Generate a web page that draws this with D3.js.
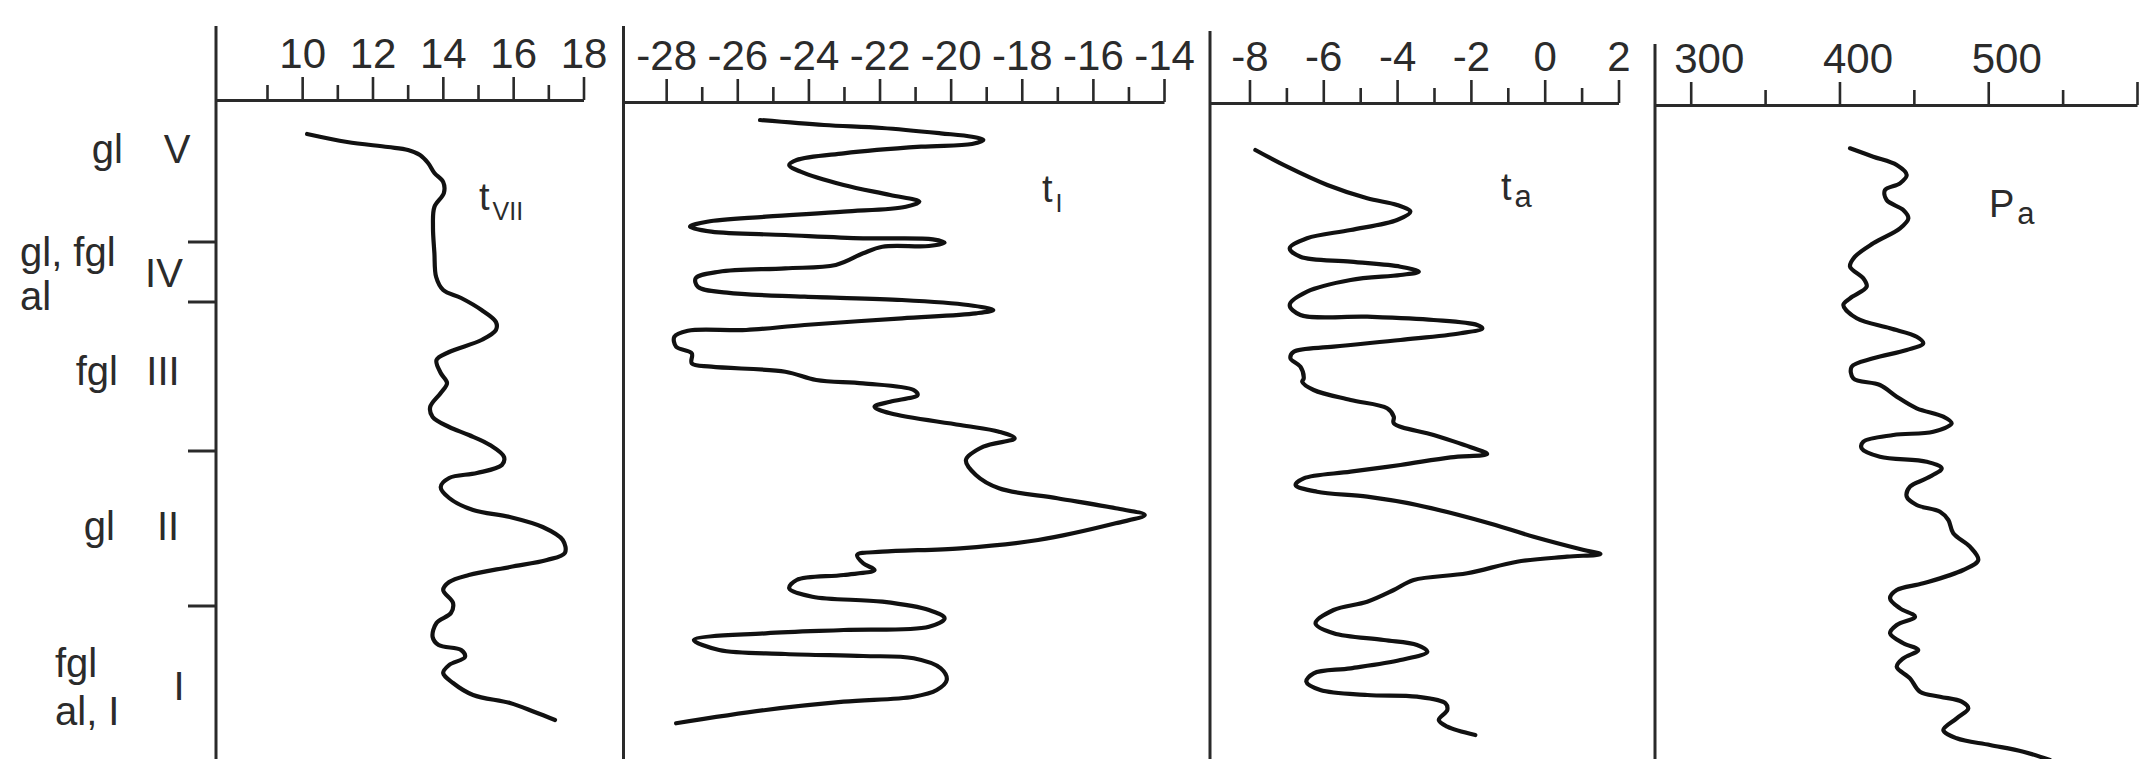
<!DOCTYPE html>
<html><head><meta charset="utf-8">
<script src="https://cdn.jsdelivr.net/npm/d3@7"></script>
<style>
html,body{margin:0;padding:0;background:#fff;}
svg{display:block;background:#fff;}
text{font-family:"Liberation Sans", Arial, Helvetica, sans-serif; fill:#2b2b2b;}
</style></head><body>
<svg id="chart" width="2153" height="759"></svg>
<script>
// ---------- DATA (depth in relative units, value on each panel's scale) ----------
// t_VII : July temperature
const tVII = [[3.4,10.14],[4.2,11.28],[4.7,12.44],[5.0,13.01],[5.5,13.35],[6.3,13.58],[7.3,13.76],[8.2,14.01],[9.3,14.03],[10.7,13.76],[12.7,13.72],[15.3,13.76],[17.7,13.81],[19.0,14.01],[19.8,14.52],[21.0,15.10],[22.2,15.51],[23.0,15.51],[24.0,15.10],[25.2,14.18],[26.0,13.82],[27.3,13.94],[28.3,14.12],[29.3,13.94],[30.7,13.64],[31.7,13.71],[32.7,14.18],[33.5,14.74],[34.5,15.34],[35.7,15.74],[36.5,15.68],[37.3,14.97],[37.8,14.18],[38.7,13.94],[39.8,14.18],[41.0,14.86],[41.7,15.91],[42.7,16.84],[44.0,17.41],[45.3,17.47],[46.0,16.96],[46.7,15.91],[47.5,14.74],[48.2,14.18],[49.0,14.01],[50.3,14.29],[51.3,14.23],[52.3,13.82],[53.7,13.71],[54.5,13.88],[55.0,14.52],[55.7,14.63],[56.5,14.18],[57.3,14.01],[58.3,14.29],[59.5,14.86],[60.3,15.91],[61.2,16.61],[62.0,17.19]];
// t_I : January temperature
const tI = [[2.0,-25.36],[2.5,-23.56],[2.8,-21.93],[3.33,-20.28],[3.67,-19.40],[4.0,-19.08],[4.4,-19.40],[4.67,-20.83],[5.33,-23.01],[6.0,-24.33],[6.5,-24.54],[7.17,-24.22],[8.5,-23.01],[9.5,-21.70],[10.17,-20.88],[10.67,-21.26],[11.17,-23.01],[11.67,-25.20],[12.17,-26.85],[12.67,-27.33],[13.17,-26.73],[13.5,-24.65],[13.83,-22.46],[13.93,-20.50],[14.27,-20.17],[14.6,-20.61],[14.67,-21.92],[15.33,-22.46],[16.5,-23.23],[16.83,-24.65],[17.17,-26.51],[17.83,-27.17],[18.67,-27.11],[19.27,-26.29],[19.67,-24.11],[20.0,-21.37],[20.5,-19.51],[21.0,-18.80],[21.33,-19.29],[21.83,-21.37],[22.5,-24.11],[23.0,-25.75],[23.07,-27.39],[23.67,-27.77],[24.67,-27.72],[25.33,-27.28],[26.33,-27.28],[26.67,-26.73],[27.17,-24.65],[28.0,-23.78],[28.33,-22.46],[29.0,-21.04],[29.5,-20.93],[30.17,-21.70],[30.67,-22.14],[31.33,-21.70],[32.5,-19.73],[33.17,-18.64],[33.83,-18.20],[34.67,-19.08],[36.0,-19.57],[37.5,-19.29],[38.83,-18.64],[39.83,-17.00],[40.83,-15.36],[41.5,-14.54],[42.33,-15.36],[44.0,-17.54],[44.83,-19.73],[45.17,-21.92],[45.5,-22.63],[46.33,-22.46],[47.0,-22.14],[47.5,-23.01],[48.0,-24.33],[48.83,-24.54],[49.67,-23.89],[50.17,-21.92],[51.0,-20.61],[51.83,-20.17],[52.67,-20.61],[53.0,-23.01],[53.33,-25.20],[54.0,-27.22],[55.0,-26.51],[55.4,-24.65],[55.6,-22.46],[55.83,-21.04],[56.83,-20.28],[58.0,-20.11],[59.0,-20.39],[59.67,-21.04],[60.17,-23.01],[61.0,-25.20],[62.33,-27.72]];
// t_a : mean annual temperature
const tA = [[5.0,-7.84],[6.67,-6.98],[8.5,-5.89],[9.83,-4.81],[10.5,-4.00],[11.17,-3.64],[12.0,-4.00],[13.0,-5.26],[13.83,-6.44],[14.83,-6.91],[15.67,-6.62],[16.17,-5.26],[16.67,-3.91],[17.17,-3.41],[17.5,-3.91],[18.0,-5.26],[19.17,-6.44],[20.5,-6.91],[21.5,-6.62],[21.67,-4.81],[22.0,-3.01],[22.5,-1.83],[22.83,-1.69],[23.33,-2.28],[24.0,-3.91],[24.67,-5.72],[25.17,-6.80],[25.83,-6.89],[26.67,-6.62],[27.83,-6.53],[28.17,-6.57],[29.0,-6.26],[30.0,-5.26],[30.83,-4.27],[31.67,-4.09],[32.33,-4.09],[33.5,-3.01],[34.83,-1.92],[35.4,-1.56],[35.73,-2.55],[36.5,-3.91],[37.17,-5.26],[37.83,-6.53],[38.5,-6.75],[39.17,-6.17],[39.67,-4.81],[40.5,-3.46],[42.17,-1.65],[43.67,-0.30],[45.0,1.06],[45.4,1.51],[45.67,0.61],[46.17,-0.75],[47.33,-2.10],[48.0,-3.55],[49.0,-4.09],[50.17,-4.81],[51.0,-5.72],[52.33,-6.21],[53.33,-5.72],[54.0,-4.36],[54.5,-3.46],[55.17,-3.18],[56.0,-3.91],[56.83,-5.26],[57.33,-6.26],[58.17,-6.46],[59.0,-6.08],[59.5,-4.81],[59.67,-3.46],[60.33,-2.69],[61.0,-2.64],[62.0,-2.87],[62.67,-2.64],[63.5,-1.88]];
// P_a : annual precipitation
const pA = [[4.83,407.1],[5.67,422.7],[6.5,438.5],[7.5,445.2],[8.33,440.7],[9.0,430.6],[10.0,431.7],[11.0,442.9],[11.83,446.3],[12.83,440.7],[14.33,422.7],[15.67,410.4],[16.67,407.1],[17.83,416.0],[18.67,418.3],[19.83,407.1],[20.5,402.6],[21.83,411.6],[22.83,434.0],[23.67,451.9],[24.33,456.3],[25.0,445.2],[25.83,422.7],[26.67,408.2],[27.83,409.3],[28.5,427.2],[29.67,438.5],[30.83,451.9],[31.67,469.8],[32.33,475.4],[33.17,463.1],[33.5,436.2],[34.17,416.0],[34.83,414.9],[35.67,427.2],[36.17,458.6],[36.83,468.7],[37.83,458.6],[38.67,447.4],[39.67,445.2],[40.5,451.9],[41.17,467.6],[42.0,473.2],[43.33,476.5],[44.67,487.7],[46.0,493.3],[47.0,483.2],[48.33,456.3],[49.0,438.5],[49.83,434.0],[50.83,440.7],[51.67,450.8],[52.5,438.5],[53.33,434.0],[54.33,442.9],[55.0,453.0],[55.83,442.9],[56.67,438.5],[57.83,447.4],[59.17,454.1],[59.67,467.6],[60.17,482.2],[60.83,486.6],[61.83,478.8],[63.0,469.8],[63.83,478.8],[64.5,501.2],[65.17,523.6],[66.0,541.5]];

// tick values and labels
const ticks1 = [10,12,14,16,18], minor1 = [9,11,13,15,17];
const labels1 = ["10","12","14","16","18"];
const ticks2 = [-28,-26,-24,-22,-20,-18,-16,-14], minor2 = [-27,-25,-23,-21,-19,-17,-15];
const labels2 = ["-28","-26","-24","-22","-20","-18","-16","-14"];
const ticks3 = [-8,-6,-4,-2,0,2], minor3 = [-7,-5,-3,-1,1];
const labels3 = ["-8","-6","-4","-2","0","2"];
const ticks4 = [300,400,500,600], minor4 = [350,450,550];
const labels4 = ["300","400","500",""];

// stratigraphy
const stages = ["V","IV","III","II","I"];
const genesis = [["gl"],["gl, fgl","al"],["fgl"],["gl"],["fgl","al, I"]];
const stageBounds = [14.2, 20.2, 35.1, 50.6];

// series names
const seriesNames = [["t","VII"],["t","I"],["t","a"],["P","a"]];

// ---------- LAYOUT ----------
const W = 2153, H = 759;
const svg = d3.select("#chart");
svg.append("rect").attr("width",W).attr("height",H).attr("fill","#fff");
const ys = d3.scaleLinear().domain([0,66]).range([100,760]);
const INK = "#2a2a2a";

const panels = [
  {data:tVII, domain:[7.55,18], range:[216,583.5], axisY:100, top:26, major:ticks1, minor:minor1, labels:labels1, ldx:0, name:seriesNames[0], np:[479,210], sub:25},
  {data:tI, domain:[-29.2,-14], range:[623.5,1164], axisY:102, top:26, major:ticks2, minor:minor2, labels:labels2, ldx:0, name:seriesNames[1], np:[1042,202], sub:25},
  {data:tA, domain:[-9.07,2], range:[1210,1618.5], axisY:103, top:31, major:ticks3, minor:minor3, labels:labels3, ldx:0, name:seriesNames[2], np:[1501,200], sub:31},
  {data:pA, domain:[276,600], range:[1655,2137], axisY:105, top:44, major:ticks4, minor:minor4, labels:labels4, ldx:18, name:seriesNames[3], np:[1989,217], sub:31}
];

panels.forEach(p => {
  const xs = d3.scaleLinear().domain(p.domain).range(p.range);
  const g = svg.append("g");
  // vertical panel line
  g.append("line").attr("x1",p.range[0]).attr("x2",p.range[0])
    .attr("y1",p.top).attr("y2",H).attr("stroke",INK).attr("stroke-width",3);
  // major axis with labels
  const ax = d3.axisTop(xs).tickValues(p.major).tickSize(23).tickSizeOuter(0).tickPadding(10)
    .tickFormat((d,i) => p.labels[i]);
  const ga = g.append("g").attr("transform",`translate(0,${p.axisY})`).call(ax);
  ga.select(".domain").attr("stroke",INK).attr("stroke-width",3);
  ga.selectAll(".tick line").attr("stroke",INK).attr("stroke-width",2.6);
  ga.selectAll(".tick text").attr("font-size",42).attr("font-family",'"Liberation Sans", Arial, sans-serif')
    .attr("fill","#2b2b2b").attr("dx",p.ldx).attr("dy","0.02em");
  // minor ticks
  const am = d3.axisTop(xs).tickValues(p.minor).tickSize(15).tickSizeOuter(0).tickFormat("");
  const gm = g.append("g").attr("transform",`translate(0,${p.axisY})`).call(am);
  gm.select(".domain").remove();
  gm.selectAll(".tick line").attr("stroke",INK).attr("stroke-width",2.6);
  // curve
  const line = d3.line().x(d => xs(d[1])).y(d => ys(d[0])).curve(d3.curveCatmullRom.alpha(0.5));
  g.append("path").datum(p.data).attr("d",line).attr("fill","none")
    .attr("stroke","#111").attr("stroke-width",4.2).attr("stroke-linejoin","round").attr("stroke-linecap","round");
  // series label
  const t = g.append("text").attr("x",p.np[0]).attr("y",p.np[1]).attr("font-size",38);
  t.append("tspan").text(p.name[0]);
  t.append("tspan").attr("font-size",p.sub).attr("dx",3).attr("dy",p.sub < 30 ? 10 : 7).text(p.name[1]);
});

// stage boundary marks on first panel's left line
svg.selectAll(".bound").data(stageBounds).enter().append("line")
  .attr("x1",188).attr("x2",216).attr("y1",d=>ys(d)).attr("y2",d=>ys(d))
  .attr("stroke",INK).attr("stroke-width",3);

// genesis labels and stage numerals
const genesisLayout = [
  {x:123, anchor:"end", ys:[163]},
  {x:20, anchor:"start", ys:[266,310]},
  {x:118, anchor:"end", ys:[385]},
  {x:115, anchor:"end", ys:[540]},
  {x:55, anchor:"start", ys:[677,725]}
];
const stageLayout = [[177,163],[164,287],[163,385],[168,540],[179,700]];
genesis.forEach((lines,i) => {
  const L = genesisLayout[i];
  lines.forEach((s,j) => {
    svg.append("text").attr("x",L.x).attr("y",L.ys[j]).attr("text-anchor",L.anchor)
      .attr("font-size",40).text(s);
  });
});
stages.forEach((s,i) => {
  svg.append("text").attr("x",stageLayout[i][0]).attr("y",stageLayout[i][1])
    .attr("text-anchor","middle").attr("font-size",40).text(s);
});
</script>
</body></html>
